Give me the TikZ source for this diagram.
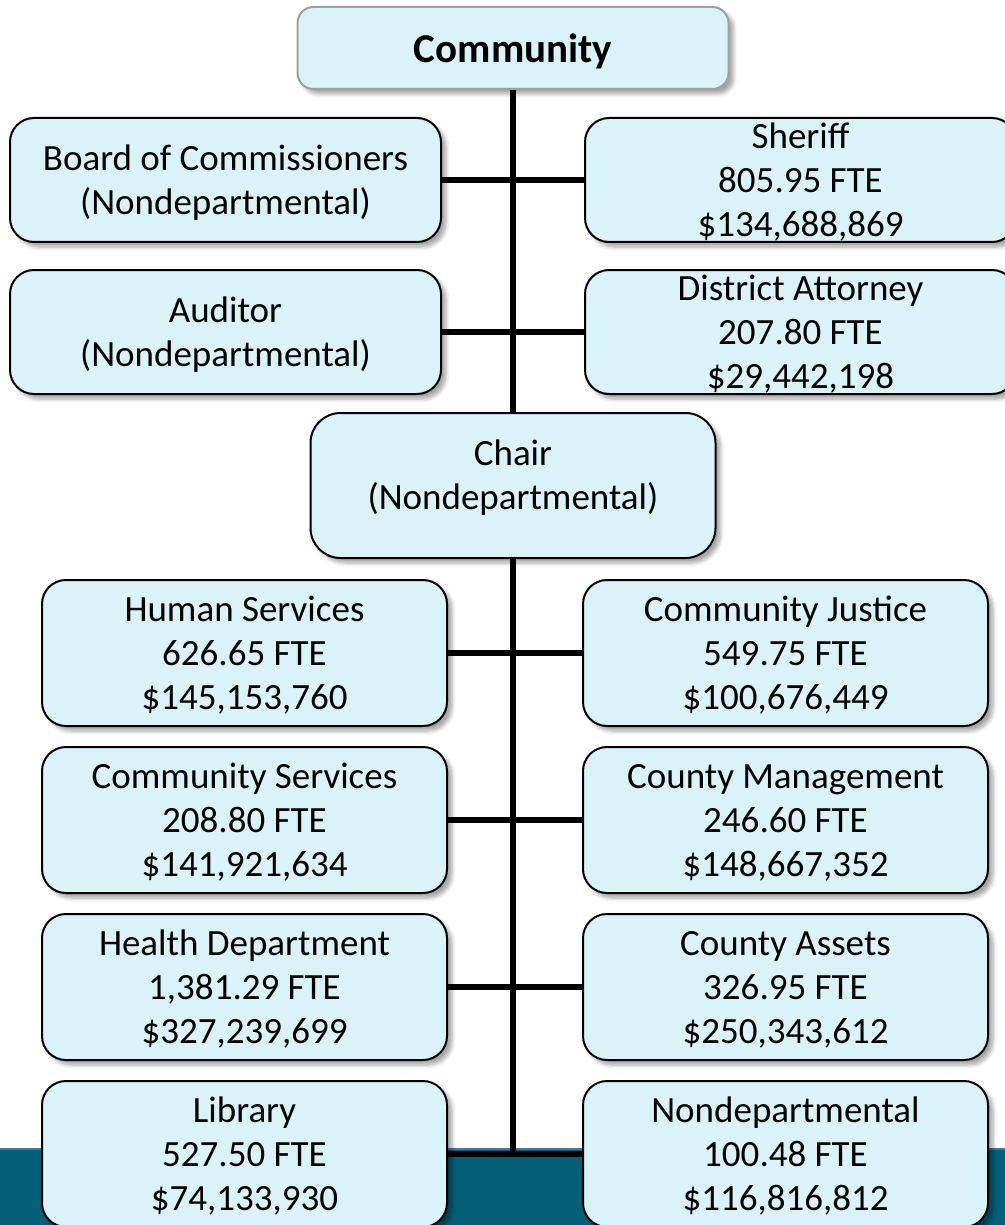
\documentclass[tikz,border=0pt]{standalone}
\usepackage{fontspec}
\setmainfont{Carlito}
\usetikzlibrary{shadows.blur}

\definecolor{boxfill}{HTML}{DAF3F8}
\definecolor{bandteal}{HTML}{055F77}
\definecolor{bandedge}{HTML}{4A72A8}

\tikzset{
  unit/.style={draw=black, line width=1pt, fill=boxfill, rounded corners=12pt,
    align=center, inner sep=0pt, text depth=0pt, font=\fontsize{18.5}{22}\selectfont,
    blur shadow={shadow xshift=2.5pt, shadow yshift=-2.5pt, shadow blur steps=6, shadow opacity=35}},
  topunit/.style={unit, minimum width=215.5pt, minimum height=62pt},
  dept/.style={unit, minimum width=202.5pt, minimum height=73pt},
  link/.style={line width=2.6pt},
}

\begin{document}
\begin{tikzpicture}[x=0.5pt, y=-0.5pt]

    % Page frame
    \clip (0,0) rectangle (1005,1225);
    \useasboundingbox (0,0) rectangle (1005,1225);

    % Footer band
    \fill[bandteal] (0,1149) rectangle (1005,1225);
    \draw[bandedge, line width=1pt] (0,1149) -- (1005,1149);

    % Head of the chart
    \node[unit, draw=gray!75, rounded corners=8pt, minimum width=215.5pt, minimum height=41pt,
          font=\bfseries\fontsize{20.5}{24}\selectfont] (community) at (513,48) {Community};

    % Elected offices
    \node[topunit] (board) at (225.5,180) {Board of Commissioners\\(Nondepartmental)};
    \node[topunit] (sheriff) at (800.5,180) {Sheriff\\805.95 FTE\\\$134,688,869};
    \node[topunit] (auditor) at (225.5,332) {Auditor\\(Nondepartmental)};
    \node[topunit] (da) at (800.5,332) {District Attorney\\207.80 FTE\\\$29,442,198};

    % Chair
    \node[unit, rounded corners=15pt, minimum width=202.5pt, minimum height=72.5pt,
          text depth=11pt] (chair) at (513,485.5) {Chair\\(Nondepartmental)};

    % Departments
    \node[dept] (human) at (244.5,653) {Human Services\\626.65 FTE\\\$145,153,760};
    \node[dept] (justice) at (785.5,653) {Community Justice\\549.75 FTE\\\$100,676,449};
    \node[dept] (commserv) at (244.5,820) {Community Services\\208.80 FTE\\\$141,921,634};
    \node[dept] (mgmt) at (785.5,820) {County Management\\246.60 FTE\\\$148,667,352};
    \node[dept] (health) at (244.5,987) {Health Department\\1,381.29 FTE\\\$327,239,699};
    \node[dept] (assets) at (785.5,987) {County Assets\\326.95 FTE\\\$250,343,612};
    \node[dept] (library) at (244.5,1154) {Library\\527.50 FTE\\\$74,133,930};
    \node[dept] (nondept) at (785.5,1154) {Nondepartmental\\100.48 FTE\\\$116,816,812};

    % Trunk lines
    \coordinate (base) at (513,1154);
    \draw[link, line width=3pt] (community.south) -- (chair.north);
    \draw[link, line width=3pt] (chair.south) -- (base);

    % Branches
    \draw[link] (board.east) -- (sheriff.west);
    \draw[link] (auditor.east) -- (da.west);
    \draw[link] (human.east) -- (justice.west);
    \draw[link] (commserv.east) -- (mgmt.west);
    \draw[link] (health.east) -- (assets.west);
    \draw[link] (library.east) -- (nondept.west);

\end{tikzpicture}
\end{document}
